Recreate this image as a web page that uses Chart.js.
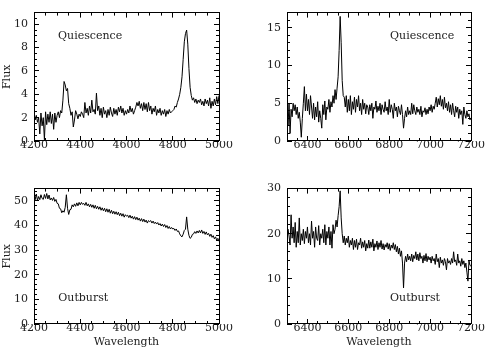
<!DOCTYPE html>
<html>
<head>
<meta charset="utf-8">
<script src="https://cdn.jsdelivr.net/npm/chart.js@4.4.1/dist/chart.umd.min.js"></script>
<style>
html, body { margin: 0; padding: 0; background: #fff; }
#wrap { position: relative; width: 485px; height: 353px; overflow: hidden; }
canvas { position: absolute; }
</style>
</head>
<body>
<div id="wrap">
<canvas id="qBlue" width="243" height="175" style="left:0;top:0"></canvas>
<canvas id="qRed" width="242" height="175" style="left:243px;top:0"></canvas>
<canvas id="oBlue" width="243" height="177" style="left:0;top:176px"></canvas>
<canvas id="oRed" width="242" height="177" style="left:243px;top:176px"></canvas>
</div>
<script>
// wavelength grids (Angstrom), sampled every 5
const blueStart = 4200, redStart = 6300, waveStep = 5;

const blueTicks = [4200, 4400, 4600, 4800, 5000];
const redTicks = [6400, 6600, 6800, 7000, 7200];

// quiescence, blue side (4200-5000)
const qBlueFlux = [
  2.5,1.8,2.2,1.6,2.0,0.6,2.4,1.3,2.0,0.1, 2.5,1.4,2.3,1.6,2.5,1.5,2.3,1.0,2.4,1.6,
  2.2,2.5,2.0,2.6,2.4,3.5,5.1,4.8,4.3,4.5, 3.2,2.8,2.2,2.5,1.2,1.8,2.6,2.3,1.9,2.3,
  2.1,2.5,2.3,2.0,3.3,2.4,2.8,2.2,3.0,2.4, 3.5,2.5,2.7,2.3,4.1,2.6,3.0,2.2,2.8,2.0,
  2.9,2.3,2.6,2.0,2.7,2.2,2.9,2.4,2.1,2.8, 2.3,2.7,2.2,2.9,2.5,3.0,2.4,2.8,2.2,2.6,
  2.3,2.7,2.4,3.0,2.5,2.8,2.3,2.6,2.9,3.3, 3.0,3.4,2.8,3.2,2.6,3.3,2.7,3.2,2.5,3.3,
  2.6,3.0,2.3,2.8,2.5,3.0,2.2,2.7,2.4,2.8, 2.2,2.6,2.3,2.7,2.1,2.6,2.3,2.7,2.4,2.5,
  2.6,2.7,3.0,2.9,3.3,3.6,4.0,4.6,5.5,7.0, 8.5,9.2,9.5,8.3,6.2,4.6,3.9,3.5,3.7,3.3,
  3.6,3.2,3.5,3.3,3.6,3.1,3.4,3.0,3.6,3.2, 3.5,3.0,3.7,2.8,3.4,3.0,3.6,3.1,3.8,3.2,
  3.9
];

// quiescence, red side (6300-7200)
const qRedFlux = [
  4.5,2.0,5.0,1.0,4.2,3.2,5.0,4.0,4.8,3.5, 4.5,3.0,3.8,2.5,0.5,3.0,5.0,7.2,4.0,6.2,
  4.0,5.5,3.5,6.0,4.5,3.0,5.0,2.8,4.5,3.2, 5.2,2.5,4.0,3.0,1.7,4.8,3.5,5.3,2.8,4.5,
  4.2,5.5,3.8,5.2,4.5,6.0,5.0,6.8,5.5,7.0, 8.5,12.0,16.5,13.0,8.0,6.0,5.8,4.5,6.0,3.8,
  5.5,4.0,6.0,3.5,5.2,4.2,5.8,3.8,5.5,4.5, 6.0,4.0,5.0,3.5,5.5,4.2,5.0,3.6,4.8,4.5,
  3.5,4.8,4.0,5.0,3.0,4.5,4.2,5.3,3.8,4.6, 4.0,5.0,3.5,4.8,4.2,3.8,5.2,4.0,4.5,3.5,
  5.5,3.8,4.8,4.2,3.0,5.0,4.0,4.5,3.2,4.6, 4.0,3.5,4.8,3.5,1.7,3.0,4.0,3.2,4.5,3.5,
  4.0,3.5,5.0,3.6,4.8,4.0,3.5,4.5,3.8,4.2, 3.5,4.6,3.2,4.0,3.8,4.4,3.5,4.2,3.6,4.5,
  4.0,4.8,3.8,4.6,4.2,5.0,5.8,4.5,5.6,4.8, 6.0,4.6,5.5,4.2,5.8,4.4,5.0,4.0,5.2,3.8,
  4.8,3.5,5.0,4.0,3.2,4.6,3.8,4.5,3.0,4.2, 3.5,4.0,2.2,4.5,3.5,3.0,4.0,3.2,3.6,2.8,
  3.0
];

// outburst, blue side
const oBlueFlux = [
  53.8,50.5,52.8,50.2,51.8,50.5,52.5,51.0,50.6,52.6, 51.0,53.0,50.8,52.4,50.4,51.2,50.2,51.4,49.8,50.6,
  49.0,48.8,47.0,46.8,45.2,46.0,45.4,47.4,52.5,47.0, 44.5,46.4,46.6,48.4,47.6,48.8,47.8,49.2,48.0,49.4,
  48.4,49.4,48.6,49.0,48.2,49.4,48.0,48.8,47.6,48.6, 47.4,48.4,47.0,48.2,46.8,47.8,46.6,47.6,46.2,47.2,
  46.0,47.0,45.6,46.8,45.4,46.6,45.0,46.2,44.8,45.8, 44.6,45.6,44.4,45.4,44.0,45.0,43.8,44.8,43.4,44.4,
  43.8,44.2,43.2,44.2,43.0,43.8,42.6,43.6,42.4,43.4, 42.2,43.0,41.8,42.8,41.6,42.6,41.4,42.2,41.0,42.0,
  41.6,42.0,41.0,41.8,40.8,41.4,40.6,41.2,40.2,40.8, 39.8,40.6,39.6,40.4,39.2,40.0,38.8,39.6,38.6,39.2,
  38.6,38.8,38.0,38.6,37.6,37.8,36.6,35.8,35.4,36.5, 38.0,38.5,43.5,38.5,36.0,34.8,35.2,36.4,36.6,37.5,
  36.8,37.8,37.0,38.0,37.0,38.2,36.8,37.6,36.4,37.4, 36.2,36.8,35.6,36.5,35.2,35.9,34.6,35.4,34.0,34.8,
  33.6
];

// outburst, red side
const oRedFlux = [
  18.5,21.0,19.5,17.5,24.2,19.0,21.5,18.0,22.5,17.0, 20.5,18.0,23.5,17.5,20.0,18.5,21.0,17.8,20.5,19.0,
  21.5,18.0,20.0,17.5,22.8,19.0,20.5,17.0,21.5,19.0, 18.5,21.8,17.5,20.0,19.0,21.0,18.0,22.0,17.5,20.5,
  19.0,21.5,17.5,20.5,16.8,22.0,20.0,21.0,23.0,21.5, 24.0,26.0,29.5,23.5,20.0,18.0,19.5,17.5,19.0,18.0,
  19.5,17.0,18.5,17.5,19.0,16.5,18.5,17.0,18.8,16.5, 18.0,17.5,19.0,16.8,18.2,17.0,18.5,16.2,17.8,16.8,
  18.6,16.8,18.2,17.0,18.8,16.2,17.8,17.0,18.4,16.5, 18.0,17.0,18.5,16.6,17.8,16.4,17.6,17.0,18.0,16.6,
  17.8,16.3,17.5,16.8,18.0,16.5,17.6,16.0,17.2,15.5, 16.8,15.0,16.2,13.5,8.0,13.5,15.0,13.8,15.5,14.2,
  15.0,14.0,15.5,13.8,15.2,14.5,16.0,14.2,15.5,14.0, 15.8,14.5,15.0,13.5,15.2,14.0,15.6,13.8,15.0,14.2,
  14.8,13.5,15.0,14.0,14.5,13.2,15.5,13.8,14.5,12.5, 14.8,13.5,14.2,13.0,14.5,13.8,12.0,14.5,13.5,14.0,
  13.2,14.5,13.5,16.0,13.8,14.2,13.0,15.5,13.5,14.0, 12.8,14.5,13.2,14.0,12.5,13.5,11.5,9.5,14.0,13.0,
  12.8
];

const qBlueYTicks = [0, 2, 4, 6, 8, 10];
const qRedYTicks = [0, 5, 10, 15];
const oBlueYTicks = [0, 10, 20, 30, 40, 50];
const oRedYTicks = [0, 10, 20, 30];

Chart.defaults.font.family = "'DejaVu Serif', serif";
Chart.defaults.font.size = 11;
Chart.defaults.color = '#222';

function spectrum(start, flux) {
  return flux.map((f, i) => ({x: start + i * waveStep, y: f}));
}

// box with inward ticks on all sides plus the in-panel label
const framePlugin = {
  id: 'frame',
  afterDatasetsDraw(chart, args, o) {
    const {ctx, chartArea: a, scales: {x, y}} = chart;
    const snap = v => Math.floor(v) + 0.5;
    ctx.save();
    ctx.strokeStyle = '#000';
    ctx.lineWidth = 1;
    ctx.strokeRect(snap(a.left), snap(a.top), Math.round(a.right - a.left), Math.round(a.bottom - a.top));
    ctx.beginPath();
    for (let v = x.min; v <= x.max + 1e-6; v += o.xMinor) {
      const px = snap(x.getPixelForValue(v));
      const len = o.xMajor.includes(v) ? 5 : 3;
      ctx.moveTo(px, a.bottom); ctx.lineTo(px, a.bottom - len);
      ctx.moveTo(px, a.top); ctx.lineTo(px, a.top + len);
    }
    for (let v = y.min; v <= y.max + 1e-6; v += o.yMinor) {
      const py = snap(y.getPixelForValue(v));
      const len = o.yMajor.some(m => Math.abs(m - v) < 1e-6) ? 5 : 3;
      ctx.moveTo(a.left, py); ctx.lineTo(a.left + len, py);
      ctx.moveTo(a.right, py); ctx.lineTo(a.right - len, py);
    }
    ctx.stroke();
    ctx.fillStyle = '#222';
    ctx.font = "11px 'DejaVu Serif'";
    ctx.textAlign = 'left';
    ctx.textBaseline = 'middle';
    ctx.fillText(o.label[0], x.getPixelForValue(o.label[1]), y.getPixelForValue(o.label[2]));
    ctx.restore();
  }
};

function panel(id, p) {
  new Chart(document.getElementById(id), {
    type: 'line',
    data: {
      datasets: [{
        data: p.data,
        borderColor: '#000',
        borderWidth: 1,
        pointRadius: 0,
        tension: 0,
        fill: false
      }]
    },
    options: {
      animation: false,
      responsive: false,
      events: [],
      layout: {padding: {top: p.top, right: p.right, left: 0, bottom: 0}},
      plugins: {
        legend: {display: false},
        tooltip: {enabled: false},
        frame: {xMajor: p.xTicks, xMinor: 50, yMajor: p.yTicks, yMinor: p.yMinor, label: p.label}
      },
      scales: {
        x: {
          type: 'linear', min: p.xMin, max: p.xMax,
          grid: {display: false, drawTicks: false},
          border: {display: false},
          ticks: {padding: -2, maxRotation: 0, autoSkip: false, callback: v => String(v)},
          afterBuildTicks: s => { s.ticks = p.xTicks.map(v => ({value: v})); },
          afterFit: s => { s.height = p.xh; },
          title: {display: p.xTitle, text: 'Wavelength', padding: {top: 0, bottom: 4}}
        },
        y: {
          min: 0, max: p.yMax,
          grid: {display: false, drawTicks: false},
          border: {display: false},
          ticks: {padding: 6, autoSkip: false, callback: v => String(v)},
          afterBuildTicks: s => { s.ticks = p.yTicks.map(v => ({value: v})); },
          afterFit: s => { s.width = p.yw; },
          title: {display: p.yTitle, text: 'Flux', padding: {top: 1, bottom: 0}}
        }
      }
    },
    plugins: [framePlugin]
  });
}

panel('qBlue', {
  data: spectrum(blueStart, qBlueFlux), xMin: 4200, xMax: 5000, xTicks: blueTicks,
  yMax: 11, yTicks: qBlueYTicks, yMinor: 0.5, top: 1, right: 24, xh: 34, yw: 34,
  xTitle: false, yTitle: true, label: ['Quiescence', 4304, 9.0]
});
panel('qRed', {
  data: spectrum(redStart, qRedFlux), xMin: 6300, xMax: 7200, xTicks: redTicks,
  yMax: 17, yTicks: qRedYTicks, yMinor: 1, top: 1, right: 14, xh: 34, yw: 44,
  xTitle: false, yTitle: false, label: ['Quiescence', 6804, 13.9]
});
panel('oBlue', {
  data: spectrum(blueStart, oBlueFlux), xMin: 4200, xMax: 5000, xTicks: blueTicks,
  yMax: 55, yTicks: oBlueYTicks, yMinor: 2, top: 7, right: 24, xh: 29, yw: 34,
  xTitle: true, yTitle: true, label: ['Outburst', 4305, 10.4]
});
panel('oRed', {
  data: spectrum(redStart, oRedFlux), xMin: 6300, xMax: 7200, xTicks: redTicks,
  yMax: 30, yTicks: oRedYTicks, yMinor: 2, top: 7, right: 14, xh: 29, yw: 44,
  xTitle: true, yTitle: false, label: ['Outburst', 6804, 5.8]
});
</script>
</body>
</html>
